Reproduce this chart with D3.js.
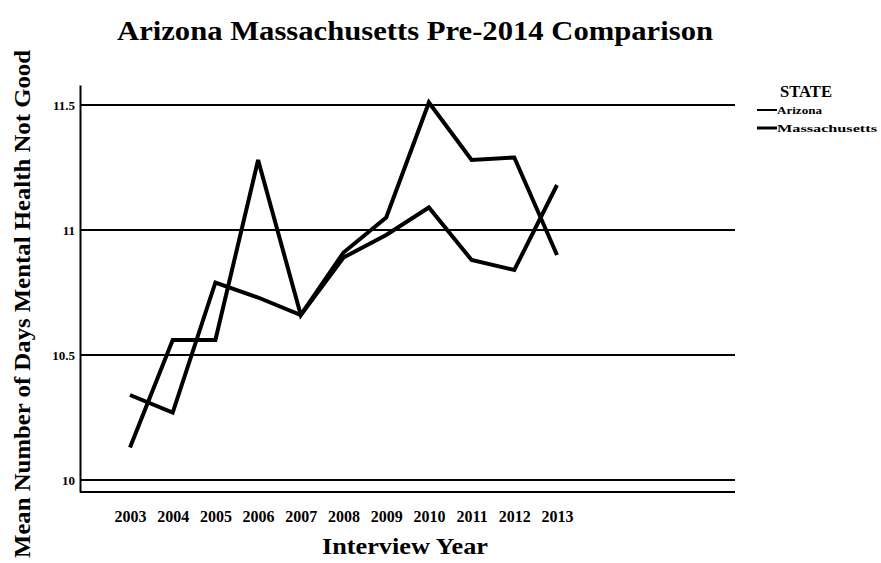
<!DOCTYPE html>
<html>
<head>
<meta charset="utf-8">
<script src="https://cdn.jsdelivr.net/npm/d3@7"></script>
<style>
  html, body { margin: 0; padding: 0; background: #fff; }
  svg { display: block; }
  text { font-family: "Liberation Serif", "Times New Roman", serif; font-weight: bold; fill: #000; }
</style>
</head>
<body>
<div id="chart"></div>
<script>
// chart data
const years = ["2003", "2004", "2005", "2006", "2007", "2008", "2009", "2010", "2011", "2012", "2013"];
const arizona = [10.13, 10.56, 10.56, 11.28, 10.66, 10.91, 11.05, 11.51, 11.28, 11.29, 10.90];
const massachusetts = [10.34, 10.27, 10.79, 10.73, 10.66, 10.89, 10.98, 11.09, 10.88, 10.84, 11.18];
const yTicks = [10, 10.5, 11, 11.5];
const yTickLabels = ["10", "10.5", "11", "11.5"];

const width = 881, height = 563;
const plot = { left: 80, right: 735, top: 85, bottom: 492 };

const svg = d3.select("#chart").append("svg")
    .attr("width", width)
    .attr("height", height);

const x = d3.scalePoint()
    .domain(years)
    .range([130, 557]);

const y = d3.scaleLinear()
    .domain([9.952, 11.58])
    .range([plot.bottom, plot.top]);

// horizontal gridlines
svg.append("g")
    .selectAll("line")
    .data(yTicks)
    .join("line")
    .attr("x1", plot.left)
    .attr("x2", plot.right)
    .attr("y1", d => y(d))
    .attr("y2", d => y(d))
    .attr("stroke", "#000")
    .attr("stroke-width", 2);

// y axis
const yAxis = svg.append("g")
    .attr("transform", `translate(${plot.left},0)`)
    .call(d3.axisLeft(y).tickValues(yTicks).tickFormat((d, i) => yTickLabels[i]).tickSize(0).tickPadding(5));
yAxis.select(".domain").attr("stroke", "#000").attr("stroke-width", 2);
yAxis.selectAll("text").style("font-size", "13px").style("font-family", "Liberation Serif, serif").style("font-weight", "bold");

// x axis
const xAxis = svg.append("g")
    .attr("transform", `translate(0,${plot.bottom})`)
    .call(d3.axisBottom(x).tickSize(0).tickPadding(19));
xAxis.select(".domain").remove();
xAxis.append("line")
    .attr("x1", plot.left).attr("x2", plot.right)
    .attr("stroke", "#000").attr("stroke-width", 2);
xAxis.selectAll("text").style("font-size", "16px").style("font-family", "Liberation Serif, serif").style("font-weight", "bold");

// lines
const line = d3.line()
    .x((d, i) => x(years[i]))
    .y(d => y(d));

svg.append("path")
    .datum(massachusetts)
    .attr("d", line)
    .attr("fill", "none")
    .attr("stroke", "#000")
    .attr("stroke-width", 4);

svg.append("path")
    .datum(arizona)
    .attr("d", line)
    .attr("fill", "none")
    .attr("stroke", "#000")
    .attr("stroke-width", 4);

// titles
svg.append("text")
    .attr("x", 415)
    .attr("y", 40)
    .attr("text-anchor", "middle")
    .attr("textLength", 596)
    .attr("lengthAdjust", "spacingAndGlyphs")
    .style("font-size", "27px")
    .text("Arizona Massachusetts Pre-2014 Comparison");

svg.append("text")
    .attr("x", 405)
    .attr("y", 554)
    .attr("text-anchor", "middle")
    .attr("textLength", 166)
    .attr("lengthAdjust", "spacingAndGlyphs")
    .style("font-size", "24px")
    .text("Interview Year");

svg.append("text")
    .attr("transform", "translate(30,304) rotate(-90)")
    .attr("text-anchor", "middle")
    .attr("textLength", 508)
    .attr("lengthAdjust", "spacingAndGlyphs")
    .style("font-size", "23px")
    .text("Mean Number of Days Mental Health Not Good");

// legend
const legend = svg.append("g").attr("transform", "translate(757,0)");
legend.append("text")
    .attr("x", 23).attr("y", 97)
    .attr("textLength", 52)
    .attr("lengthAdjust", "spacingAndGlyphs")
    .style("font-size", "16px")
    .text("STATE");
const states = ["Arizona", "Massachusetts"];
const legendWidths = [45, 100];
legend.selectAll("g.item")
    .data(states)
    .join("g")
    .attr("class", "item")
    .attr("transform", (d, i) => `translate(0,${110 + i * 18})`)
    .each(function (d, i) {
        const g = d3.select(this);
        g.append("line").attr("x1", 0).attr("x2", 20)
            .attr("stroke", "#000").attr("stroke-width", i === 0 ? 2 : 3);
        g.append("text").attr("x", 20).attr("y", 4)
            .attr("textLength", legendWidths[i])
            .attr("lengthAdjust", "spacingAndGlyphs")
            .style("font-size", "11px").text(d);
    });
</script>
</body>
</html>
